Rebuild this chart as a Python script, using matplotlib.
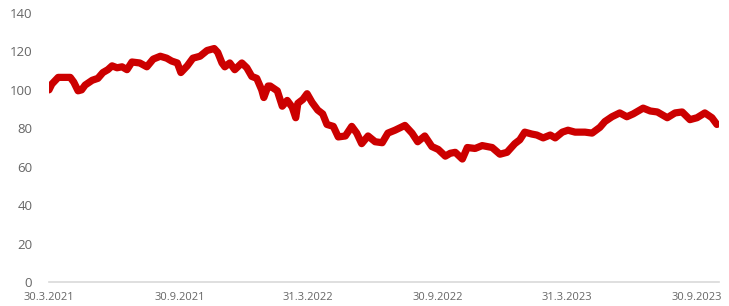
import numpy as np
import matplotlib
matplotlib.use('Agg')
import matplotlib.pyplot as plt

# days since 30.3.2021 and index value
days=[0,4,13,23,30,35,41,46,51,61,69,76,83,89,96,103,110,117,128,138,147,157,166,173,181,186,
      195,203,213,223,233,238,244,248,255,262,272,279,286,293,300,303,309,312,322,329,336,343,348,
      351,358,364,371,379,386,392,401,408,418,427,434,441,450,460,470,478,488,502,512,520,530,540,
      549,559,566,573,583,590,601,611,625,636,646,657,664,671,681,688,697,707,714,724,732,742,756,
      766,777,784,794,805,815,824,838,848,858,872,883,893,904,914,925,935,942]
values=[100,103,106.5,106.5,106.5,104,99.5,100,102.5,105,106,109,110.5,112.5,111.5,112,110.5,114.5,
        114,112,116,117.5,116.5,115,114,109,112.5,116.5,117.5,120.5,121.5,119.5,114,112,114,110.5,114,
        111.5,107,106,100,96,102,102,99.5,91.5,94.5,91,85.5,93,95,98,93.5,89.5,87.5,82,81,75.5,76,81,
        77.5,72,76,73,72.5,77.5,79,81.5,77.5,73,76,70.5,69,65.5,67,67.5,64,70,69.5,71,70,66.5,67.5,72,
        74,78,77,76.5,75,76.5,75,78,79,78,78,77.5,80.5,83.5,86,88,86,87.5,90.5,89,88.5,85.5,88,88.5,
        84.5,85.5,88,85.5,82]
tick_days=[0,184,365,549,730,914]
tick_labels=['30.3.2021','30.9.2021','31.3.2022','30.9.2022','31.3.2023','30.9.2023']

start=np.datetime64('2021-03-30')
dates=start+np.array(days).astype('timedelta64[D]')
tdates=start+np.array(tick_days).astype('timedelta64[D]')

plt.rcParams['font.family']=['Open Sans','DejaVu Sans']
fig=plt.figure(figsize=(7.29,3.06),dpi=100)
ax=fig.add_axes([0.0672,0.0784,0.9191,0.8791])
ax.plot(dates,values,color='#cc0000',lw=5.2,solid_capstyle='round',solid_joinstyle='round')
ax.set_ylim(0,140); ax.set_yticks(range(0,141,20))
ax.set_xlim(start,start+np.timedelta64(945,'D'))
ax.set_xticks(tdates); ax.set_xticklabels(tick_labels)
for s in ('top','right','left'): ax.spines[s].set_visible(False)
ax.spines['bottom'].set_color('#d9d9d9'); ax.spines['bottom'].set_linewidth(1.2)
ax.tick_params(axis='y',length=0,pad=12,labelsize=9.5,labelcolor='#666666')
ax.tick_params(axis='x',length=0,pad=7,labelsize=8,labelcolor='#666666')
fig.savefig('out.png',dpi=100)
